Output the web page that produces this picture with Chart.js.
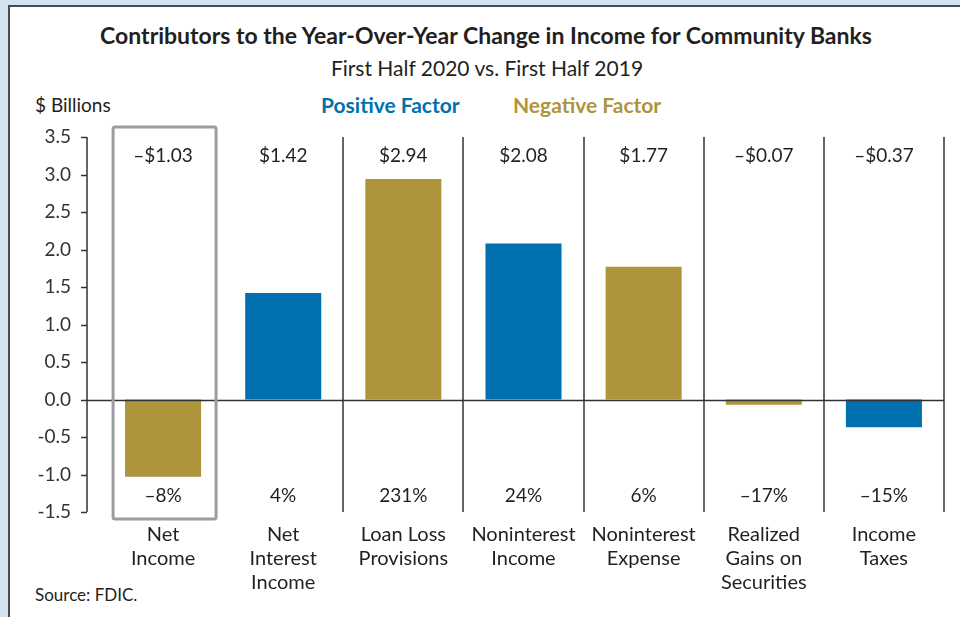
<!DOCTYPE html>
<html>
<head>
<meta charset="utf-8">
<script src="https://cdn.jsdelivr.net/npm/chart.js@4.4.1/dist/chart.umd.min.js"></script>
<style>
  html, body { margin: 0; padding: 0; }
  body {
    width: 960px; height: 617px; overflow: hidden; position: relative;
    background: #d2e2ef;
    font-family: Lato, "Open Sans", sans-serif; color: #231f20;
  }
  #panel {
    position: absolute; left: 8px; top: 5px; width: 1000px; height: 700px;
    background: #fff; border: 2px solid #4a4a4a;
  }
  #chartBox { position: absolute; left: 0; top: 0; width: 960px; height: 617px; }
  .txt { position: absolute; white-space: nowrap; line-height: 1; }
  .mid { transform: translate(-50%, -50%); }
  .left { transform: translate(0, -50%); }
  #title { left: 486px; top: 35px; font-size: 23px; font-weight: 700; }
  #subtitle { left: 487px; top: 67px; font-size: 21px; }
  #units { left: 35px; top: 104px; font-size: 19px; }
  #posKey { left: 321px; top: 104px; font-size: 21px; font-weight: 700; color: #0071ae; }
  #negKey { left: 513px; top: 104px; font-size: 21px; font-weight: 700; color: #ae953b; }
  #source { left: 35px; top: 594px; font-size: 17px; }
</style>
</head>
<body>
<div id="panel"></div>
<div class="txt mid" id="title">Contributors to the Year-Over-Year Change in Income for Community Banks</div>
<div class="txt mid" id="subtitle">First Half 2020 vs. First Half 2019</div>
<div class="txt left" id="units">$ Billions</div>
<div class="txt left" id="posKey">Positive Factor</div>
<div class="txt left" id="negKey">Negative Factor</div>
<div class="txt left" id="source">Source: FDIC.</div>
<div id="chartBox"><canvas id="incomeChart"></canvas></div>
<script>
const categories = [
    ['Net', 'Income'],
    ['Net', 'Interest', 'Income'],
    ['Loan Loss', 'Provisions'],
    ['Noninterest', 'Income'],
    ['Noninterest', 'Expense'],
    ['Realized', 'Gains on', 'Securities'],
    ['Income', 'Taxes']
];
const changeBillions = [-1.03, 1.42, 2.94, 2.08, 1.77, -0.07, -0.37];
const changePercent = [-8, 4, 231, 24, 6, -17, -15];
const factorType = ['negative', 'positive', 'negative', 'positive', 'negative', 'negative', 'positive'];

const factorColors = { positive: '#0071ae', negative: '#ae953b' };
const inkColor = '#231f20';
const fontFamily = 'Lato, "Open Sans", sans-serif';

function dollarLabel(v) {
    return (v < 0 ? '\u2013$' : '$') + Math.abs(v).toFixed(2);
}
function percentLabel(v) {
    return (v < 0 ? '\u2013' : '') + Math.abs(v) + '%';
}

// axis line, category separators, value/percent labels and the highlight box
const decorations = {
    id: 'decorations',
    afterDatasetsDraw(chart) {
        const { ctx, chartArea, scales: { x, y } } = chart;
        const bars = chart.getDatasetMeta(0).data;
        const axisX = chartArea.left - 16;

        ctx.save();
        ctx.strokeStyle = '#333';
        ctx.lineWidth = 1.5;

        // separators between categories (the first one is covered by the box)
        for (let i = 1; i < categories.length; i++) {
            const sx = i < categories.length - 1
                ? Math.round((x.getPixelForValue(i) + x.getPixelForValue(i + 1)) / 2)
                : chartArea.right;
            ctx.beginPath();
            ctx.moveTo(sx, chartArea.top);
            ctx.lineTo(sx, chartArea.bottom);
            ctx.stroke();
        }

        // zero line
        const y0 = Math.round(y.getPixelForValue(0)) + 0.5;
        ctx.beginPath();
        ctx.moveTo(axisX, y0);
        ctx.lineTo(chartArea.right, y0);
        ctx.stroke();

        // y axis with outward ticks
        ctx.beginPath();
        ctx.moveTo(axisX, y.getPixelForValue(y.max));
        ctx.lineTo(axisX, y.getPixelForValue(y.min));
        y.ticks.forEach(t => {
            const ty = Math.round(y.getPixelForValue(t.value)) + 0.5;
            ctx.moveTo(axisX - 6, ty);
            ctx.lineTo(axisX, ty);
        });
        ctx.stroke();

        // value and percent labels
        ctx.fillStyle = inkColor;
        ctx.font = '19px ' + fontFamily;
        ctx.textAlign = 'center';
        ctx.textBaseline = 'middle';
        bars.forEach((bar, i) => {
            ctx.fillText(dollarLabel(changeBillions[i]), bar.x, chartArea.top + 19);
            ctx.fillText(percentLabel(changePercent[i]), bar.x, chartArea.bottom - 16);
        });

        // highlight box around net income
        const first = bars[0];
        ctx.strokeStyle = '#9c9ca0';
        ctx.lineWidth = 3;
        ctx.beginPath();
        ctx.roundRect(first.x - 50, chartArea.top - 10, 103, chartArea.bottom - chartArea.top + 17, 2);
        ctx.stroke();
        ctx.restore();
    }
};

new Chart(document.getElementById('incomeChart'), {
    type: 'bar',
    data: {
        labels: categories,
        datasets: [{
            data: changeBillions,
            backgroundColor: factorType.map(f => factorColors[f]),
            categoryPercentage: 1,
            barPercentage: 0.633
        }]
    },
    options: {
        responsive: true,
        maintainAspectRatio: false,
        animation: false,
        layout: { padding: { top: 137, right: 16, bottom: 15, left: 0 } },
        scales: {
            x: {
                grid: { display: false },
                border: { display: false },
                afterFit: (s) => { s.height = 90; },
                ticks: {
                    color: inkColor,
                    padding: 3,
                    maxRotation: 0,
                    autoSkip: false,
                    font: { family: fontFamily, size: 20, lineHeight: 1.2 }
                }
            },
            y: {
                min: -1.5,
                max: 3.5,
                grid: { display: false },
                border: { display: false },
                afterFit: (s) => { s.width = 103; },
                ticks: {
                    stepSize: 0.5,
                    color: '#333',
                    padding: 24,
                    font: { family: fontFamily, size: 19 },
                    callback: (v) => Number(v).toFixed(1)
                }
            }
        },
        plugins: {
            legend: { display: false },
            tooltip: { enabled: false }
        }
    },
    plugins: [decorations]
});
</script>
</body>
</html>
